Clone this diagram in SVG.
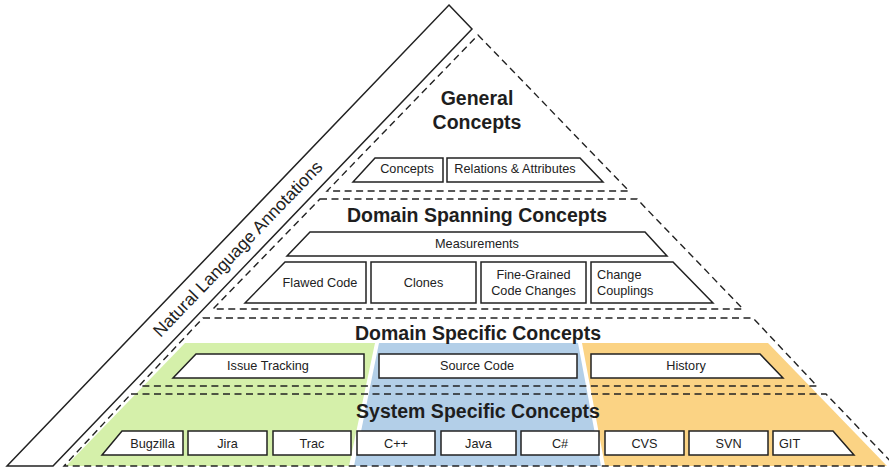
<svg xmlns="http://www.w3.org/2000/svg" width="889" height="468" viewBox="0 0 889 468">
  <style>
    .layer { fill: none; stroke: #222; stroke-width: 1.4; stroke-dasharray: 7 4.5; }
    .box { fill: #fff; stroke: #222; stroke-width: 1.5; stroke-linejoin: miter; }
    .band { fill: #fff; stroke: #222; stroke-width: 1.5; }
    .lbl { font-family: "Liberation Sans", Arial, sans-serif; font-size: 12.7px; fill: #222; text-anchor: middle; }
    .lbl-l { font-family: "Liberation Sans", Arial, sans-serif; font-size: 12.7px; fill: #222; text-anchor: start; }
    .title { font-family: "Liberation Sans", Arial, sans-serif; font-size: 19.5px; font-weight: bold; fill: #1e1e1e; text-anchor: middle; }
    .band-text { font-family: "Liberation Sans", Arial, sans-serif; font-size: 17.5px; fill: #222; text-anchor: middle; }
  </style>

  <rect width="889" height="468" fill="#fff"/>

  <!-- tinted columns behind the two lower layers -->
  <g id="areas">
    <polygon points="185,343 375,343 349,466 66,466" fill="#d5f0aa"/>
    <polygon points="379,343 578,343 601,466 354,466" fill="#b3cfe8"/>
    <polygon points="582,343 768,343 887,466 605,466" fill="#fbd384"/>
  </g>

  <!-- side band -->
  <g id="annotations">
    <polygon class="band" points="449,5 472,29 53,466 7,466"/>
    <text class="band-text" transform="translate(242,253) rotate(-46.2)">Natural Language Annotations</text>
  </g>

  <!-- pyramid layers -->
  <g id="layer-general">
    <polygon class="layer" points="478,35 629,191 327,191"/>
    <text class="title" x="477" y="105">General</text>
    <text class="title" x="477" y="129">Concepts</text>
    <g id="concepts">
      <polygon class="box" points="353,182 375,158 443,158 443,182"/>
      <text class="lbl" x="407" y="173">Concepts</text>
    </g>
    <g id="relations">
      <polygon class="box" points="447,158 580,158 603,182 447,182"/>
      <text class="lbl" x="515" y="173">Relations &amp; Attributes</text>
    </g>
  </g>

  <g id="layer-spanning">
    <polygon class="layer" points="320,199 637,199 743,309 213,309"/>
    <text class="title" x="477" y="222">Domain Spanning Concepts</text>
    <g id="measurements">
      <polygon class="box" points="287,256 310,232 645,232 667,256"/>
      <text class="lbl" x="477" y="248">Measurements</text>
    </g>
    <g id="flawed-code">
      <polygon class="box" points="245,303 285,262 366,262 366,303"/>
      <text class="lbl" x="320" y="287">Flawed Code</text>
    </g>
    <g id="clones">
      <rect class="box" x="371" y="262" width="105" height="41"/>
      <text class="lbl" x="423.5" y="287">Clones</text>
    </g>
    <g id="fine-grained">
      <rect class="box" x="481" y="262" width="105" height="41"/>
      <text class="lbl" x="533.5" y="279">Fine-Grained</text>
      <text class="lbl" x="533.5" y="295">Code Changes</text>
    </g>
    <g id="change-couplings">
      <polygon class="box" points="591,262 673,262 713,303 591,303"/>
      <text class="lbl-l" x="597" y="279">Change</text>
      <text class="lbl-l" x="597" y="295">Couplings</text>
    </g>
  </g>

  <g id="layer-domain">
    <polygon class="layer" points="203,318 753,318 817,386 139,386"/>
    <text class="title" x="478" y="340">Domain Specific Concepts</text>
    <g id="issue-tracking">
      <polygon class="box" points="173,378 196,354 364,354 364,378"/>
      <text class="lbl" x="268" y="370">Issue Tracking</text>
    </g>
    <g id="source-code">
      <rect class="box" x="379" y="354" width="198" height="24"/>
      <text class="lbl" x="477" y="370">Source Code</text>
    </g>
    <g id="history">
      <polygon class="box" points="591,354 760,354 783,378 591,378"/>
      <text class="lbl" x="686" y="370">History</text>
    </g>
  </g>

  <g id="layer-system">
    <polygon class="layer" points="131,394 826,394 895,466 64,466"/>
    <text class="title" x="478" y="418">System Specific Concepts</text>
    <g id="bugzilla">
      <polygon class="box" points="102,455 122,431 183,431 183,455"/>
      <text class="lbl" x="152.5" y="448">Bugzilla</text>
    </g>
    <g id="jira">
      <rect class="box" x="188" y="431" width="79" height="24"/>
      <text class="lbl" x="227.5" y="448">Jira</text>
    </g>
    <g id="trac">
      <rect class="box" x="273" y="431" width="78" height="24"/>
      <text class="lbl" x="312" y="448">Trac</text>
    </g>
    <g id="cpp">
      <rect class="box" x="357" y="431" width="78" height="24"/>
      <text class="lbl" x="396" y="448">C++</text>
    </g>
    <g id="java">
      <rect class="box" x="441" y="431" width="75" height="24"/>
      <text class="lbl" x="478.5" y="448">Java</text>
    </g>
    <g id="csharp">
      <rect class="box" x="521" y="431" width="78" height="24"/>
      <text class="lbl" x="560" y="448">C#</text>
    </g>
    <g id="cvs">
      <rect class="box" x="605" y="431" width="79" height="24"/>
      <text class="lbl" x="644.5" y="448">CVS</text>
    </g>
    <g id="svn">
      <rect class="box" x="689" y="431" width="79" height="24"/>
      <text class="lbl" x="728.5" y="448">SVN</text>
    </g>
    <g id="git">
      <polygon class="box" points="773,431 833,431 854,455 773,455"/>
      <text class="lbl-l" x="779" y="448">GIT</text>
    </g>
  </g>
</svg>
